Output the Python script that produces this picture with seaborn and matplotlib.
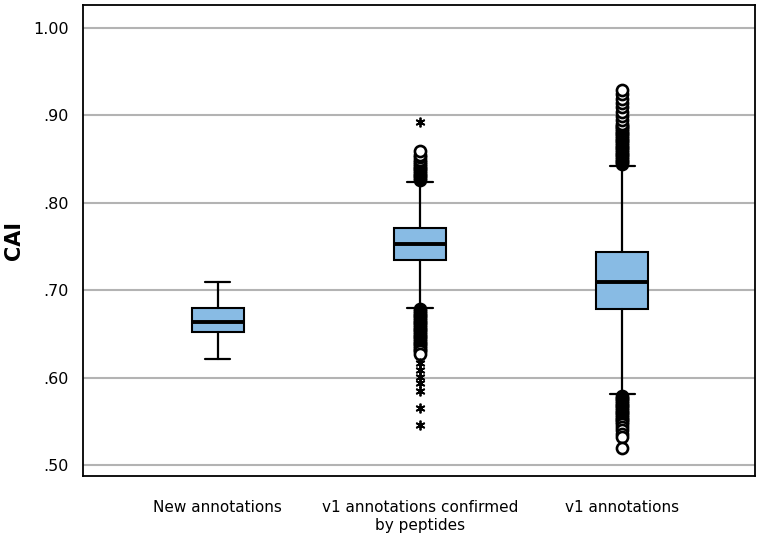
import matplotlib
matplotlib.use("Agg")
import matplotlib.pyplot as plt
import seaborn as sns

sns.set_style("white")
plt.rcParams['font.family'] = ['DejaVu Sans']

# Data (CAI values)
groups = ["New annotations", "v1 annotations confirmed\nby peptides", "v1 annotations"]
q1 = [0.652, 0.734, 0.678]
med = [0.663, 0.753, 0.709]
q3 = [0.680, 0.771, 0.744]
whis_lo = [0.621, 0.680, 0.581]
whis_hi = [0.709, 0.824, 0.842]

# outliers (open circles)
out_new = []
out_pep = [0.826, 0.828, 0.830, 0.832, 0.834, 0.836, 0.838, 0.840, 0.842, 0.844,
           0.846, 0.849, 0.852, 0.855, 0.859,
           0.678, 0.676, 0.674, 0.672, 0.670, 0.668, 0.666, 0.664, 0.662, 0.660,
           0.658, 0.656, 0.654, 0.652, 0.650, 0.648, 0.646, 0.644, 0.642, 0.640,
           0.638, 0.636, 0.634, 0.632, 0.630, 0.627]
out_v1 = [0.844, 0.846, 0.848, 0.850, 0.852, 0.854, 0.856, 0.858, 0.860, 0.862,
          0.864, 0.866, 0.868, 0.870, 0.872, 0.874, 0.876, 0.878, 0.880, 0.882,
          0.884, 0.886, 0.888, 0.890, 0.894, 0.899, 0.904, 0.909, 0.914, 0.919,
          0.924, 0.929,
          0.579, 0.577, 0.575, 0.573, 0.571, 0.569, 0.567, 0.565, 0.563, 0.561,
          0.559, 0.557, 0.555, 0.553, 0.551, 0.549, 0.547, 0.544, 0.540, 0.536,
          0.532, 0.519]
outliers = [out_new, out_pep, out_v1]

# extreme values (asterisks), only in the peptide group
extreme_pep = [0.892, 0.617, 0.609, 0.601, 0.594, 0.585, 0.565, 0.546]

stats = []
for i in range(len(groups)):
    stats.append(dict(label=groups[i], q1=q1[i], med=med[i], q3=q3[i],
                      whislo=whis_lo[i], whishi=whis_hi[i], fliers=outliers[i]))

fig, ax = plt.subplots(figsize=(7.65, 5.4), dpi=100)
fig.subplots_adjust(left=0.1085, right=0.987, bottom=0.1185, top=0.9907)

ax.bxp(stats, positions=[0, 1, 2], widths=0.257, patch_artist=True,
       boxprops=dict(facecolor="#88bbe4", edgecolor="black", linewidth=1.5),
       medianprops=dict(color="black", linewidth=2.8),
       whiskerprops=dict(color="black", linewidth=1.6),
       capprops=dict(color="black", linewidth=1.6),
       capwidths=0.125,
       flierprops=dict(marker="o", markerfacecolor="white", markeredgecolor="black",
                       markersize=8, markeredgewidth=1.9),
       zorder=3)

ax.plot([1] * len(extreme_pep), extreme_pep, linestyle="none", marker=(6, 2, 0),
        markersize=7, color="black", markeredgewidth=1.3, zorder=4)

ax.set_xlim(-0.665, 2.655)
ax.set_ylim(0.4874, 1.026)
ax.set_yticks([0.5, 0.6, 0.7, 0.8, 0.9, 1.0])
ax.set_yticklabels([".50", ".60", ".70", ".80", ".90", "1.00"])
ax.set_xticks([0, 1, 2])
ax.set_xticklabels(groups, linespacing=1.25)

ax.yaxis.grid(True, color="#b3b3b3", linewidth=1.5, zorder=0)
ax.set_axisbelow(True)
for s in ax.spines.values():
    s.set_color("black")
    s.set_linewidth(1.3)

ax.tick_params(axis="both", direction="out", length=7, width=1.5, color="black",
               labelsize=11.5, labelcolor="black")
ax.tick_params(axis="x", labelsize=11, pad=10)
ax.set_ylabel("CAI", fontsize=15, fontweight="bold", labelpad=6, color="black")

plt.savefig("out.png", dpi=100)
